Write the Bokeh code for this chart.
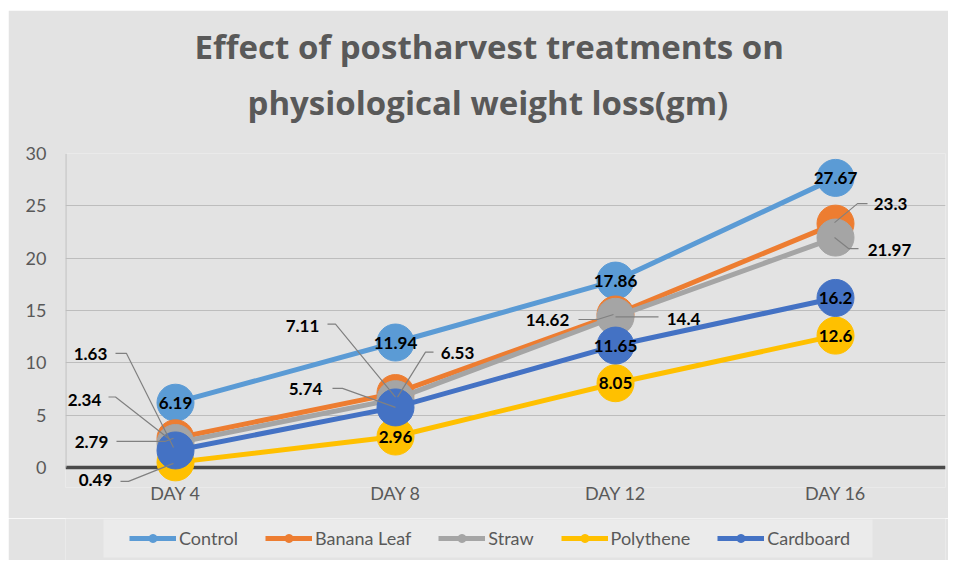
from bokeh.plotting import figure
from bokeh.layouts import column
from bokeh.models import (FixedTicker, Span, Label, Legend, LegendItem, Range1d, Arrow, Title)
from bokeh.embed import file_html
from bokeh.resources import INLINE

# ---------------- data ----------------
days = ["DAY 4", "DAY 8", "DAY 12", "DAY 16"]
series_names = ["Control", "Banana Leaf", "Straw", "Polythene", "Cardboard"]
control = [6.19, 11.94, 17.86, 27.67]
banana_leaf = [2.79, 7.11, 14.62, 23.3]
straw = [2.34, 6.53, 14.4, 21.97]
polythene = [0.49, 2.96, 8.05, 12.6]
cardboard = [1.63, 5.74, 11.65, 16.2]
y_ticks = [0, 5, 10, 15, 20, 25, 30]
title_lines = ["Effect of postharvest treatments on", "physiological weight loss(gm)"]

values = [control, banana_leaf, straw, polythene, cardboard]
colors = ["#5B9BD5", "#ED7D31", "#A5A5A5", "#FFC000", "#4472C4"]

# ---------------- geometry (style) ----------------
FW, FH = 880, 334
PX_Y = 314 / 30.0
Y1 = 30
Y0 = Y1 - FH / PX_Y
X0, X1 = -0.5, 3.5
PX_X = FW / (X1 - X0)

FONT = "Lato"
GREY_TXT = "#595959"
BG = "#e3e3e3"

p = figure(frame_width=FW, frame_height=FH, x_range=Range1d(X0, X1), y_range=Range1d(Y0, Y1),
           output_backend="svg", toolbar_location=None,
           min_border_left=57, min_border_right=3, min_border_top=143, min_border_bottom=31,
           margin=(10, 0, 0, 8))
p.title_location = None
p.border_fill_color = BG
p.background_fill_color = BG
p.outline_line_color = None

# axes
p.xaxis.ticker = FixedTicker(ticks=list(range(len(days))))
p.xaxis.major_label_overrides = {i: d for i, d in enumerate(days)}
p.xaxis.axis_line_color = None
p.xaxis.major_tick_line_color = None
p.xaxis.major_tick_out = 0
p.xaxis.minor_tick_line_color = None
p.xaxis.major_label_text_font = FONT
p.xaxis.major_label_text_font_size = "18px"
p.xaxis.major_label_text_color = GREY_TXT
p.xaxis.major_label_standoff = -6

p.yaxis.ticker = FixedTicker(ticks=y_ticks)
p.yaxis.axis_line_color = None
p.yaxis.major_tick_line_color = None
p.yaxis.major_tick_out = 0
p.yaxis.minor_tick_line_color = None
p.yaxis.major_label_text_font = FONT
p.yaxis.major_label_text_font_size = "18px"
p.yaxis.major_label_text_color = GREY_TXT
p.yaxis.major_label_standoff = 19

p.xgrid.grid_line_color = None
p.ygrid.grid_line_color = "#bdbdbd"
p.ygrid.grid_line_width = 1

# y axis line from 0 to 30
p.add_layout(Arrow(end=None, x_start=X0, y_start=0, x_end=X0, y_end=y_ticks[-1],
                   line_color="#bdbdbd", line_width=2))
# baseline
p.add_layout(Span(location=0, dimension="width", line_color="#4a4a4a", line_width=3.5,
                  level="underlay"))

xs = list(range(len(days)))
for name, vals, col in zip(series_names, values, colors):
    p.line(xs, vals, line_color=col, line_width=5)
    p.scatter(xs, vals, size=37, fill_color=col, line_color=col)

# ---------------- data labels (positions in pixels relative to point) ----------------
# (series index, day index, dx, dy, leader points [(dx,dy),...]) ; dy positive = down
label_specs = [
    (0, 0, 0, 0, None), (0, 1, 0, 0, None), (0, 2, 0, 0, None), (0, 3, 0, 0, None),
    (4, 0, -85, -96, [(-60, -97), (-49, -97), (-2, -3)]),
    (2, 0, -91, -43, [(-67, -46), (-60, -46), (-5, -3)]),
    (1, 0, -84, 4, [(-59, 3), (-10, 3), (-2, 0)]),
    (3, 0, -80, 18, [(-55, 19), (-47, 19), (-2, 1)]),
    (1, 1, -93, -67, [(-68, -69), (-60, -69), (0, 4)]),
    (4, 1, -90, -18, [(-63, -19), (-53, -19), (0, 0)]),
    (2, 1, 62, -46, [(38, -47), (30, -47), (2, -2)]),
    (3, 1, 0, 0, None),
    (1, 2, -68, 6, [(-37, 5), (-18, 5), (-2, 0)]),
    (2, 2, 68, 2, [(0, 0), (43, 0)]),
    (4, 2, 0, 0, None), (3, 2, 0, 0, None),
    (1, 3, 55, -20, [(32, -20), (22, -20), (-1, -1)]),
    (2, 3, 54, 12, [(23, 11), (13, 11), (-1, 0)]),
    (4, 3, 0, 0, None), (3, 3, 0, 0, None),
]

lead_xs, lead_ys = [], []
for si, di, dx, dy, lead in label_specs:
    v = values[si][di]
    if lead:
        lead_xs.append([di + a / PX_X for a, b in lead])
        lead_ys.append([v - b / PX_Y for a, b in lead])
p.multi_line(lead_xs, lead_ys, line_color="#808080", line_width=1.2)

for si, di, dx, dy, lead in label_specs:
    v = values[si][di]
    p.add_layout(Label(x=di + dx / PX_X, y=v - dy / PX_Y, text=f"{v:g}",
                       text_align="center", text_baseline="middle",
                       text_font=FONT, text_font_style="bold",
                       text_font_size="17px", text_color="#000000"))

# ---------------- title (two lines, line 2 closest to the plot) ----------------
for t, so, off in zip(reversed(title_lines), [58, -40], [182, 129]):
    p.add_layout(Title(text=t, align="left", offset=off, standoff=so,
                       text_font="Open Sans", text_font_style="bold", text_font_size="33px",
                       text_color=GREY_TXT), "above")

# ---------------- legend strip (x/y in pixels of the strip) ----------------
leg = figure(width=940, height=42, x_range=Range1d(65, 945), y_range=Range1d(0, 42),
             x_axis_type=None, y_axis_type=None, output_backend="svg",
             toolbar_location=None, min_border_left=57, min_border_right=3,
             min_border_top=0, min_border_bottom=0, margin=(0, 0, 0, 8))
leg.title_location = None
leg.border_fill_color = BG
leg.background_fill_color = BG
leg.outline_line_color = None
leg.grid.visible = False
leg.quad(left=[103], right=[872], bottom=[3], top=[41], fill_color="#ebebeb", line_color=None)
items = []
for name, col in zip(series_names, colors):
    r1 = leg.line([-100, -90], [-100, -100], line_color=col, line_width=5)
    r2 = leg.scatter([-100], [-100], size=10, fill_color=col, line_color=col)
    items.append(LegendItem(label=name, renderers=[r1, r2]))
legend = Legend(items=items, orientation="horizontal", location=(56, 3),
                label_text_font=FONT, label_text_font_size="18px",
                label_text_color=GREY_TXT, glyph_width=47, glyph_height=20,
                label_standoff=3, spacing=27, padding=8, margin=0,
                background_fill_alpha=0, border_line_alpha=0)
leg.add_layout(legend, "center")

layout = column(p, leg, spacing=0)
open("out.html", "w").write(file_html(layout, INLINE))
